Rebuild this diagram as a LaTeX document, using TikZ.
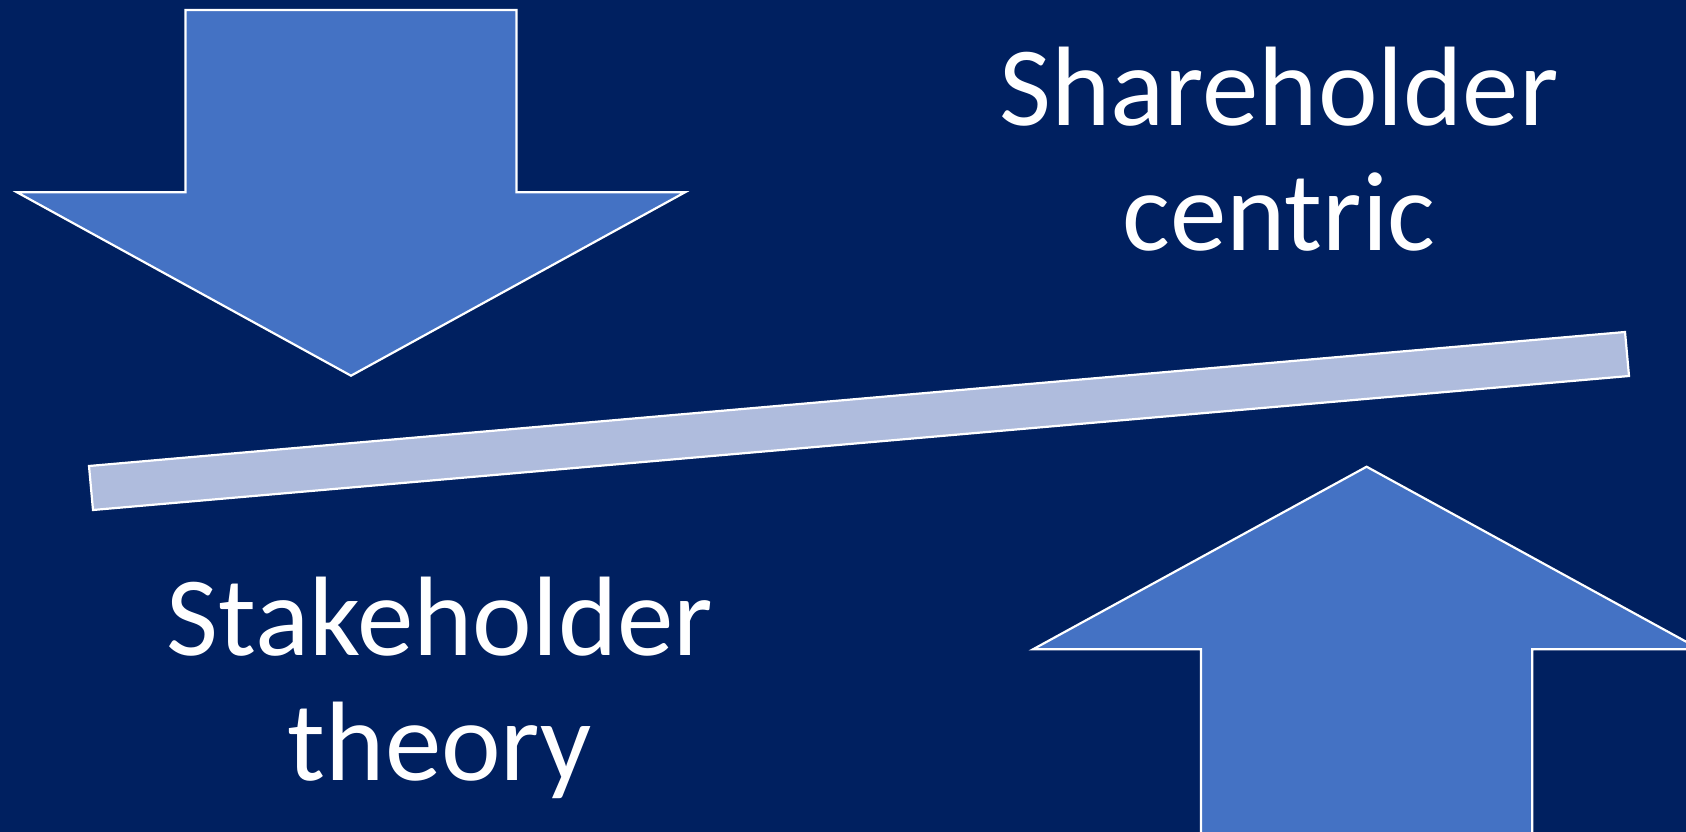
\documentclass[tikz,border=0pt]{standalone}
\usepackage{fontspec}
\setmainfont{Carlito}
\definecolor{bgnavy}{HTML}{002060}
\definecolor{arrowblue}{HTML}{4472C4}
\definecolor{barblue}{HTML}{AFBCDD}
\tikzset{
  shapeout/.style={draw=white, line width=2.2pt, line join=miter},
  bigtext/.style={text=white, anchor=base, inner sep=0pt, font=\fontsize{113}{125}\selectfont}
}
\begin{document}
\begin{tikzpicture}[x=1pt,y=-1pt]
\fill[bgnavy] (0,0) rectangle (1686,832);
\useasboundingbox (0,0) rectangle (1686,832);
\begin{scope}
\clip (0,0) rectangle (1686,832);
% down arrow
\filldraw[shapeout, fill=arrowblue] (185.5,10) -- (516.5,10) -- (516.5,192.3) -- (685,192.3) -- (351,375.7) -- (17,192.3) -- (185.5,192.3) -- cycle;
% bar
\filldraw[shapeout, fill=barblue] (89,466) -- (1625,332) -- (1629,376) -- (93,510) -- cycle;
% up arrow
\filldraw[shapeout, fill=arrowblue] (1201,900) -- (1201,649.3) -- (1033,649.3) -- (1366.6,466.7) -- (1700,649.3) -- (1532.2,649.3) -- (1532.2,900) -- cycle;
\end{scope}
\node[bigtext] (sh1) at (1279,125) {Shareholder};
\node[bigtext] (sh2) at (1279,250) {centric};
\node[bigtext] (st1) at (440,655) {Stakeholder};
\node[bigtext] (st2) at (440,780) {theory};
\end{tikzpicture}
\end{document}
